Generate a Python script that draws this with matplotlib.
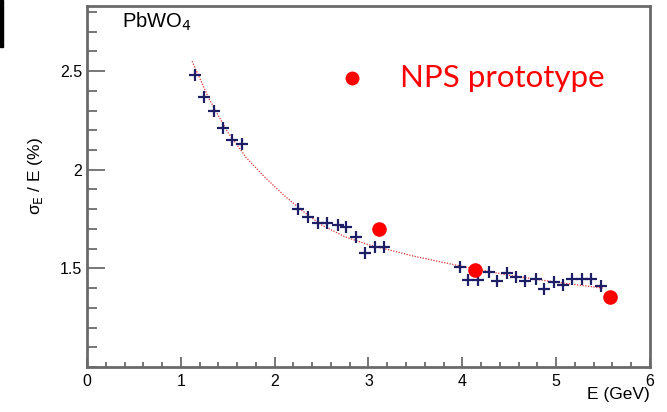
import numpy as np
import matplotlib.pyplot as plt
from matplotlib.patches import Rectangle

# datos
e_data = [1.15, 1.25, 1.35, 1.45, 1.55, 1.65,
          2.25, 2.36, 2.46, 2.56, 2.67, 2.76, 2.87, 2.96, 3.07, 3.17,
          3.97, 4.06, 4.17, 4.28, 4.37, 4.48, 4.57, 4.67, 4.78, 4.87,
          4.98, 5.07, 5.17, 5.28, 5.37, 5.48]
res_data = [2.48, 2.37, 2.30, 2.21, 2.15, 2.13,
            1.80, 1.76, 1.73, 1.73, 1.72, 1.71, 1.66, 1.58, 1.61, 1.61,
            1.505, 1.44, 1.44, 1.48, 1.435, 1.475, 1.455, 1.435, 1.445, 1.395,
            1.43, 1.415, 1.445, 1.445, 1.445, 1.41]

# curva de ajuste (puntos leidos)
e_fit = [1.12, 1.3, 1.5, 1.7, 1.9, 2.1, 2.3, 2.5, 2.75, 3.0, 3.25, 3.5, 4.0, 4.5, 5.0, 5.5]
res_fit = [2.55, 2.36, 2.19, 2.06, 1.96, 1.87, 1.79, 1.72, 1.66, 1.62, 1.59, 1.56, 1.51, 1.465, 1.43, 1.40]

# prototipo NPS
e_nps = [3.11, 4.13, 5.57]
res_nps = [1.70, 1.49, 1.355]

plt.rcParams['font.family'] = ['Liberation Sans', 'DejaVu Sans']
fig = plt.figure(figsize=(6.67, 4.12), dpi=100)
ax = fig.add_axes([0.1304, 0.1092, 0.8441, 0.8762])

ax.plot(e_fit, res_fit, ls=(0, (1, 1.2)), color='#e03030', lw=0.9)
ax.plot(e_data, res_data, '+', color='#1e1e66', ms=8, mew=1.6)
ax.plot(e_nps, res_nps, 'o', color='#ff0000', ms=10.5, mec='none')

ax.set_xlim(0, 6)
ax.set_ylim(1.0, 2.83)
ax.set_xticks(range(7))
ax.set_xticks(np.arange(0, 6.01, 0.2), minor=True)
ax.set_yticks([1.5, 2.0, 2.5])
ax.set_yticklabels(['1.5', '2', '2.5'])
ax.set_yticks(np.arange(1.0, 2.81, 0.1), minor=True)
ax.tick_params(axis='both', which='both', direction='in', top=False, right=False,
               labelsize=11.5, color='#606060', width=1.2)
ax.tick_params(axis='y', which='major', length=13)
ax.tick_params(axis='y', which='minor', length=7)
ax.tick_params(axis='x', which='major', length=7, pad=5)
ax.tick_params(axis='x', which='minor', length=3.6)
for s in ax.spines.values():
    s.set_color('#6a6a6a')
    s.set_linewidth(2)

ax.set_ylabel(r'σ$_{\rm E}$ / E (%)', fontsize=12.5)
ax.yaxis.set_label_coords(-0.075, 0.53)
fig.text(0.9745, 0.025, 'E (GeV)', fontsize=12.5, ha='right', va='bottom')

ax.text(0.063, 0.955, r'PbWO$_4$', transform=ax.transAxes, fontsize=14.5, va='center')

# leyenda a mano
ax.plot([0.471], [0.801], 'o', color='#ff0000', ms=10, mec='none', transform=ax.transAxes)
ax.text(0.556, 0.776, 'NPS prototype', transform=ax.transAxes, color='#ff0000',
        fontsize=22.5, va='baseline', family=['Lato', 'DejaVu Sans'])

fig.patches.append(Rectangle((0, 0.885), 0.005, 0.115, transform=fig.transFigure,
                             color='black', zorder=5))

plt.savefig('out.png', dpi=100)
